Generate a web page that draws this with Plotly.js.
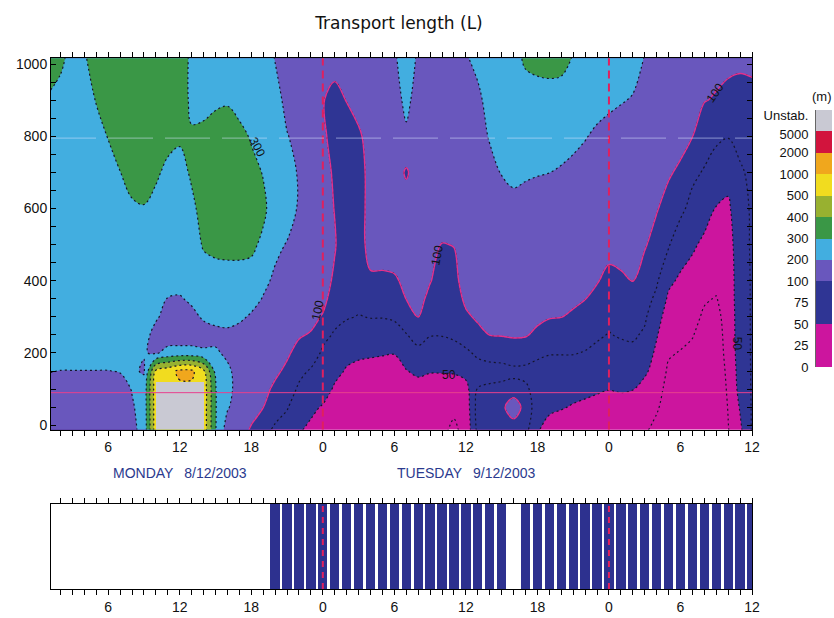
<!DOCTYPE html>
<html><head><meta charset="utf-8">
<script src="https://cdn.plot.ly/plotly-3.0.1.min.js"></script>
<style>html,body{margin:0;padding:0;background:#fff;} #chart{width:834px;height:618px;}</style>
</head><body><div id="chart"></div>
<script>
// ---- data ----
const hours = [1,2,3,4,5,6,7,8,9,10,11,12,13,14,15,16,17,18,19,20,21,22,23,24,25,26,27,28,29,30,
               31,32,33,34,35,36,37,38,39,40,41,42,43,44,45,46,47,48,49,50,51,52,53,54,55,56,57,58,59,60];
const heights = [-15,50,100,150,200,250,300,350,400,500,600,700,800,900,1020];
// transport length L (m), one profile per hour, bottom to top
const lengthProfiles = [
 [150,150,160,205,250,250,250,250,250,250,250,250,250,290,350],
 [150,150,160,198,250,250,250,250,250,250,250,250,250,270,320],
 [150,150,160,198,250,250,250,250,250,250,250,250,250,250,270],
 [150,150,160,198,250,250,250,250,250,250,250,250,250,260,290],
 [150,150,160,198,250,250,250,250,250,250,250,250,260,305,350],
 [150,150,160,198,250,250,250,250,250,250,250,250,305,350,350],
 [150,150,160,205,250,250,250,250,250,250,250,298,350,350,350],
 [175,190,205,215,240,250,250,250,250,250,280,350,350,350,350],
 [235,240,240,190,205,240,250,250,250,250,295,340,350,350,350],
 [800,800,800,600,190,160,215,250,250,250,260,320,350,350,350],
 [900,900,900,800,230,150,160,195,250,250,250,270,340,350,350],
 [900,900,900,1200,240,140,160,190,240,250,250,250,320,350,350],
 [900,900,900,1200,240,140,170,220,250,250,270,320,310,280,280],
 [800,800,800,600,220,150,215,250,250,310,350,350,330,260,250],
 [305,305,305,270,215,170,230,250,250,330,360,360,350,280,250],
 [150,210,230,220,180,180,230,250,260,330,350,350,350,290,250],
 [130,150,160,160,150,170,215,250,260,330,350,350,330,260,250],
 [98,125,140,150,160,170,190,230,260,320,340,330,290,250,250],
 [80,102,130,150,160,170,180,195,220,280,320,295,260,250,250],
 [72,82,95,120,150,160,170,175,185,220,250,250,250,240,195],
 [62,77,85,95,115,140,150,160,150,195,240,240,205,170,150],
 [52,60,72,80,92,110,140,150,150,150,190,190,170,150,150],
 [45,55,65,73,85,98,130,150,150,150,150,150,150,150,150],
 [30,48,60,66,72,80,98,130,150,150,150,150,130,110,150],
 [28,36,47,56,64,73,80,88,95,110,99,95,85,85,180],
 [28,32,38,48,56,65,77,82,85,80,85,85,85,105,150],
 [28,30,35,44,54,64,74,82,85,85,85,85,95,150,150],
 [28,30,33,42,53,63,76,85,95,150,150,150,150,150,150],
 [28,30,32,40,52,63,76,85,95,150,150,150,150,150,150],
 [28,30,32,40,51,66,78,87,97,150,150,150,150,150,180],
 [28,32,38,49,62,74,88,102,120,150,150,97,180,230,280],
 [28,32,40,55,70,82,101,130,150,150,150,150,150,150,180],
 [28,30,36,52,65,76,85,94,105,150,150,150,150,150,150],
 [28,28,36,52,64,76,82,86,90,99,150,150,150,150,150],
 [22,28,36,53,68,78,84,88,92,103,150,150,150,150,150],
 [30,35,42,58,72,83,96,120,150,150,150,150,150,160,190],
 [82,85,76,68,78,93,115,140,150,150,150,150,150,170,240],
 [85,88,78,68,82,101,130,150,150,150,150,160,210,250,250],
 [88,92,80,68,84,105,140,150,150,150,160,205,250,250,250],
 [80,180,82,70,88,110,150,150,150,150,180,215,250,250,260],
 [82,88,78,70,85,108,140,150,150,150,170,210,250,250,320],
 [52,64,68,70,78,95,120,150,150,150,160,205,250,250,340],
 [40,55,62,68,76,88,106,140,150,150,150,201,250,250,350],
 [35,52,60,67,76,87,102,130,150,150,150,190,240,250,340],
 [30,48,58,66,76,85,97,115,150,150,150,175,225,250,295],
 [28,45,56,66,74,82,90,102,130,150,150,165,205,250,260],
 [28,40,54,62,70,78,86,94,106,150,150,160,185,230,250],
 [28,35,51,58,65,74,80,86,94,130,150,160,175,215,250],
 [28,38,53,60,68,77,83,88,97,130,150,150,165,205,250],
 [28,36,51,60,70,78,85,92,101,130,150,150,160,195,230],
 [28,33,40,55,64,72,78,84,90,108,140,150,150,160,198],
 [18,28,33,38,45,52,60,70,78,92,106,140,150,150,160],
 [10,14,18,22,27,32,38,46,55,77,92,110,150,150,150],
 [8,10,14,18,24,30,35,40,46,62,80,96,130,150,150],
 [8,10,13,17,21,26,31,37,42,53,68,80,102,140,150],
 [5,7,9,12,15,18,22,27,35,46,58,73,86,104,140],
 [5,7,9,11,14,16,19,24,30,40,49,62,80,98,130],
 [24,26,28,30,32,33,34,35,36,40,46,58,76,95,120],
 [45,52,58,60,62,63,63,64,64,64,66,72,82,92,120],
 [77,77,77,77,77,77,77,77,77,78,78,80,86,95,118]
];
// unstable (grey) block
const unstableFromHour = 10, unstableToHour = 14, unstableBottom = -15, unstableTop = 120;
// colour classes
const levelValues = [0,25,50,75,100,200,300,400,500,1000,2000,5000];
const levelLabels = ['0','25','50','75','100','200','300','400','500','1000','2000','5000'];
const unstableLabel = 'Unstab.';
const bandColors = ['#cc159e','#cc159e','#2f3594','#2f3594','#6957bd','#42aee0','#3a9746','#98b130','#f1dc1f','#f0a71d','#d2143d','#c9c9d3'];
// bottom panel: hours with data
const sampledHours = [20,21,22,23,24,25,26,27,28,29,30,31,32,33,34,35,36,37,38,39,
                      41,42,43,44,45,46,47,48,49,50,51,52,53,54,55,56,57,58,59,60];
const sampledFlag  = [1,1,1,1,1,1,1,1,1,1,1,1,1,1,1,1,1,1,1,1,
                      1,1,1,1,1,1,1,1,1,1,1,1,1,1,1,1,1,1,1,1];
const midnightHours = [24, 48];
const dayLabelHours = [12, 36];
const dayLabelTexts = ['MONDAY\u2002 8/12/2003', 'TUESDAY\u2002 9/12/2003'];
const hourTickValues = [6,12,18,24,30,36,42,48,54,60];
const hourTickLabels = ['6','12','18','0','6','12','18','0','6','12'];
const heightTicks = [0,200,400,600,800,1000];
const pinkLineHeight = 90;
const paleLineHeight = 795;
const contourLabelTexts   = ['300','100','100','100','50','50'];
const contourLabelHours   = [18.5, 23.6, 33.6, 56.9, 34.6, 58.7];
const contourLabelHeights = [770, 318, 471, 920, 140, 227];
const contourLabelAngles  = [62, -78, -80, -55, 0, 90];

// ---- scale: metres -> class index (non-uniform class scale) ----
function toClass(v){
  for(let i=0;i<levelValues.length-1;i++){
    if(v<=levelValues[i+1]) return i + (v-levelValues[i])/(levelValues[i+1]-levelValues[i]);
  }
  return 11;
}
const zClass = lengthProfiles.map(p => p.map(toClass));
const nBands = bandColors.length; // 12
const colorscale = [];
bandColors.forEach((c,i)=>{ colorscale.push([i/nBands,c]); colorscale.push([(i+1)/nBands,c]); });

const common = {x: hours, y: heights, z: zClass, transpose: true, type:'contour',
  zauto:false, zmin:0, zmax:nBands, showscale:false, hoverinfo:'skip'};

const traces = [
  Object.assign({}, common, {colorscale, contours:{start:1,end:11,size:1,coloring:'fill',showlines:false}, line:{width:0, smoothing:1}}),
  Object.assign({}, common, {colorscale, contours:{start:1,end:11,size:1,coloring:'none',showlines:true}, line:{color:'#15152a', width:1.2, dash:'2px,3px', smoothing:1}}),
  Object.assign({}, common, {colorscale, contours:{start:4,end:4,size:1,coloring:'none',showlines:true}, line:{color:'#e2308c', width:1.4, smoothing:1}}),
  {type:'bar', x:[(unstableFromHour+unstableToHour)/2], width:[unstableToHour-unstableFromHour],
   base:[unstableBottom], y:[unstableTop-unstableBottom], marker:{color:bandColors[11], line:{width:0}},
   xaxis:'x', yaxis:'y', hoverinfo:'skip'},
  {type:'bar', x:sampledHours, y:sampledFlag, width:0.78, marker:{color:'#2d318f', line:{width:0}},
   xaxis:'x2', yaxis:'y2', hoverinfo:'skip'},
  {type:'heatmap', x:[0,1], y:levelValues.map((v,i)=>i).concat([nBands]),
   z: bandColors.map((c,i)=>[i+0.5]), colorscale, zmin:0, zmax:nBands, showscale:false,
   xaxis:'x3', yaxis:'y3', hoverinfo:'skip'}
];

const xDomain = [51/834, 752/834];
const axisBase = {showgrid:false, zeroline:false, showline:true, linecolor:'#000', linewidth:1, tickcolor:'#000'};
const xCommon = Object.assign({}, axisBase, {domain:xDomain, range:[1.2,60], tickmode:'array',
  tickvals:hourTickValues, ticktext:hourTickLabels, ticks:'outside', ticklen:5, mirror:'ticks',
  minor:{dtick:1, tick0:0, ticks:'outside', ticklen:5, tickcolor:'#000', showgrid:false},
  tickfont:{size:14, color:'#111'}});

const shapes = [];
midnightHours.forEach(h=>{
  shapes.push({type:'line', xref:'x', yref:'y domain', x0:h, x1:h, y0:0, y1:1, line:{color:'#e0205e', width:2, dash:'8px,5px'}});
  shapes.push({type:'line', xref:'x2', yref:'y2 domain', x0:h, x1:h, y0:0, y1:1, line:{color:'#e0205e', width:2, dash:'6px,5px'}});
});
shapes.push({type:'line', xref:'x domain', yref:'y', x0:0, x1:1, y0:pinkLineHeight, y1:pinkLineHeight, line:{color:'#e8408e', width:1}});
shapes.push({type:'line', xref:'x domain', yref:'y', x0:0, x1:1, y0:paleLineHeight, y1:paleLineHeight, line:{color:'rgba(215,228,255,0.55)', width:1, dash:'45px,12px'}});

const annotations = [];
dayLabelHours.forEach((h,i)=>annotations.push({xref:'x', yref:'paper', x:h, y:1-473/618, text:dayLabelTexts[i],
  showarrow:false, xanchor:'center', yanchor:'middle', font:{size:14, color:'#2b3a8e'}}));
contourLabelTexts.forEach((t,i)=>annotations.push({xref:'x', yref:'y', x:contourLabelHours[i], y:contourLabelHeights[i],
  text:t, textangle:contourLabelAngles[i], showarrow:false, font:{size:12, color:'#111'}}));
annotations.push({xref:'paper', yref:'paper', x:822/834, y:1-97/618, text:'(m)', showarrow:false,
  xanchor:'center', yanchor:'middle', font:{size:13, color:'#111'}});

const legendTickPos = levelValues.map((v,i)=> i === levelValues.length-1 ? 10.85 : i).concat([11.75]);

const layout = {
  width:834, height:618, margin:{l:0,r:0,t:0,b:0}, paper_bgcolor:'#fff', plot_bgcolor:'#fff',
  showlegend:false, bargap:0,
  font:{family:'Liberation Sans, Arial, sans-serif', size:14, color:'#111'},
  title:{text:'Transport length (L)', x:399/834, y:1-23/618, xanchor:'center', yanchor:'middle',
         font:{family:'DejaVu Sans, sans-serif', size:17, color:'#111'}},
  xaxis: Object.assign({}, xCommon, {anchor:'y'}),
  yaxis: Object.assign({}, axisBase, {domain:[1-429.5/618, 1-58.3/618], range:[-12,1016], tickmode:'array',
     tickvals:heightTicks, ticks:'inside', ticklen:5, mirror:'ticks',
     minor:{dtick:50, tick0:0, ticks:'inside', ticklen:5, tickcolor:'#000', showgrid:false},
     tickfont:{size:14, color:'#111'}, anchor:'x'}),
  xaxis2: Object.assign({}, xCommon, {anchor:'y2'}),
  yaxis2: Object.assign({}, axisBase, {domain:[1-589/618, 1-504/618], range:[0,1], showticklabels:false, ticks:'', mirror:true, anchor:'x2'}),
  xaxis3: {domain:[816/834, 832/834], range:[0,1], visible:false, anchor:'y3', fixedrange:true},
  yaxis3: {domain:[1-367/618, 1-110/618], range:[0,nBands], anchor:'x3', side:'left', tickmode:'array',
     tickvals: legendTickPos, ticktext: levelLabels.concat([unstableLabel]),
     ticks:'outside', ticklen:4, tickcolor:'rgba(0,0,0,0)', showline:true, linecolor:'#666', linewidth:1,
     showgrid:false, zeroline:false, tickfont:{size:13, color:'#111'}},
  shapes, annotations
};
Plotly.newPlot('chart', traces, layout, {staticPlot:true, displayModeBar:false});
</script>
</body></html>
